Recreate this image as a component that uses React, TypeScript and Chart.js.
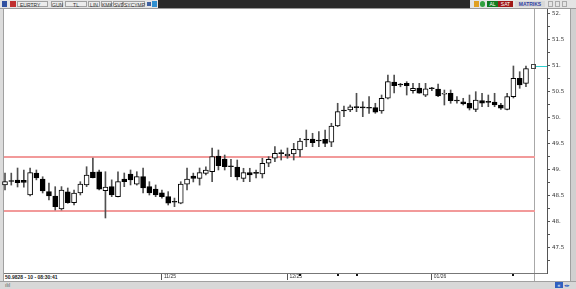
import React, { useEffect, useRef } from 'react';
import { Chart, registerables } from 'chart.js';
Chart.register(...registerables);

const opens = [48.712,48.78,48.808,48.80,48.519,48.942,48.827,48.583,48.5,48.25,48.58,48.371,48.558,48.712,48.962,48.967,48.602,48.679,48.487,48.827,48.923,48.725,48.871,48.679,48.635,48.563,48.487,48.385,48.36,48.725,48.885,48.84,48.936,48.967,49.269,49.212,49.065,49.058,48.84,48.948,48.94,48.923,49.129,49.225,49.33,49.269,49.308,49.385,49.58,49.596,49.56,49.59,49.533,49.846,50.137,50.154,50.2,50.198,50.19,50.198,50.135,50.379,50.692,50.636,50.667,50.525,50.577,50.437,50.565,50.558,50.456,50.475,50.328,50.313,50.283,50.167,50.333,50.303,50.308,50.25,50.167,50.41,50.763,50.667];
const closes = [48.775,48.778,48.756,48.76,48.948,48.846,48.596,48.5,48.294,48.615,48.371,48.558,48.731,48.904,48.852,48.629,48.673,48.519,48.775,48.775,48.808,48.871,48.654,48.558,48.519,48.487,48.36,48.38,48.731,48.827,48.84,48.948,49.0,49.256,49.083,49.063,49.063,48.865,48.948,48.904,48.936,49.129,49.206,49.321,49.315,49.308,49.398,49.558,49.577,49.525,49.558,49.513,49.846,50.121,50.135,50.217,50.198,50.196,50.188,50.11,50.379,50.698,50.621,50.634,50.621,50.571,50.475,50.563,50.563,50.423,50.475,50.333,50.327,50.269,50.187,50.346,50.283,50.301,50.25,50.187,50.41,50.763,50.635,50.95];
const highs = [48.942,48.94,49.038,49.0,49.038,49.0,48.87,48.75,48.679,48.68,48.654,48.615,48.775,49.063,49.231,49.0,48.967,48.81,48.967,48.942,49.0,48.967,49.038,48.775,48.712,48.615,48.583,48.46,48.775,49.038,48.94,49.038,49.063,49.423,49.385,49.288,49.205,49.192,49.033,49.033,49.0,49.225,49.256,49.448,49.385,49.423,49.513,49.609,49.769,49.706,49.737,49.769,49.898,50.283,50.231,50.25,50.475,50.313,50.41,50.283,50.442,50.827,50.827,50.667,50.698,50.667,50.667,50.667,50.59,50.654,50.538,50.538,50.41,50.379,50.442,50.506,50.475,50.442,50.475,50.283,50.475,51.0,50.89,51.0];
const lows = [48.615,48.71,48.673,48.67,48.5,48.81,48.558,48.423,48.231,48.23,48.36,48.327,48.52,48.68,48.846,48.615,48.077,48.487,48.48,48.679,48.712,48.71,48.558,48.519,48.487,48.456,48.327,48.294,48.35,48.615,48.77,48.71,48.904,48.775,49.0,49.0,48.871,48.808,48.775,48.775,48.846,48.846,49.063,49.16,49.192,49.225,49.192,49.256,49.448,49.448,49.448,49.448,49.448,49.833,50.025,50.121,50.121,50.025,50.09,50.09,50.09,50.365,50.481,50.6,50.442,50.475,50.475,50.41,50.525,50.41,50.25,50.283,50.283,50.25,50.154,50.121,50.217,50.217,50.217,50.167,50.154,50.385,50.571,50.603];

const dateTickIndex = [25, 45, 68];
const dateTickLabels = ['11/25', '12/25', '01/26'];
const eventIndex = [47, 53, 56, 81];
const levelLines = [49.25, 48.22];
const lastPrice = 51.0;
const yTickValues = [47.25,47.5,47.75,48,48.25,48.5,48.75,49,49.25,49.5,49.75,50,50.25,50.5,50.75,51,51.25,51.5,51.75,52];
const statusText = '50.9828 - 10 - 08:30:41';

const overlayPlugin = {
  id: 'overlay',
  beforeDatasetsDraw(chart: any) {
    const { ctx, chartArea, scales } = chart;
    const y = scales.y;
    ctx.save();
    ctx.fillStyle = '#f29a9a';
    levelLines.forEach((v) => {
      const py = Math.round(y.getPixelForValue(v));
      ctx.fillRect(chartArea.left, py - 1, 535 - chartArea.left, 2);
    });
    ctx.restore();
  },
  afterDraw(chart: any) {
    const { ctx, chartArea, scales } = chart;
    const x = scales.x;
    const y = scales.y;
    ctx.save();
    const py = Math.round(y.getPixelForValue(lastPrice)) + 0.5;
    ctx.strokeStyle = '#30d0d0';
    ctx.beginPath();
    ctx.moveTo(535, py);
    ctx.lineTo(chartArea.right, py);
    ctx.stroke();
    ctx.strokeStyle = '#444';
    ctx.strokeRect(531.5, py - 2, 4, 4);
    ctx.fillStyle = '#111';
    eventIndex.forEach((i) => {
      const px = Math.round(x.getPixelForValue(i));
      ctx.fillRect(px - 1, chartArea.bottom + 1, 2, 2);
    });
    ctx.restore();
  },
};

function App() {
  const ref = useRef<HTMLCanvasElement>(null);
  useEffect(() => {
    if (!ref.current) return;
    const bodyColors = closes.map((c, i) => (c > opens[i] ? '#ffffff' : '#000000'));
    const chart = new Chart(ref.current, {
      type: 'bar',
      data: {
        datasets: [
          {
            label: 'wick',
            data: highs.map((h, i) => ({ x: i, y: [lows[i], h] })) as any,
            backgroundColor: '#505050',
            barThickness: 1,
            grouped: false,
            order: 2,
            clip: false as any,
          },
          {
            label: 'body',
            data: opens.map((o, i) => ({ x: i, y: [o, closes[i]] })) as any,
            backgroundColor: bodyColors,
            borderColor: '#000000',
            borderWidth: 1,
            borderSkipped: false,
            barThickness: 5,
            minBarLength: 1,
            grouped: false,
            order: 1,
            clip: false as any,
          },
        ],
      },
      options: {
        animation: false,
        responsive: false,
        events: [],
        layout: { padding: { left: 4, top: 9, right: 7, bottom: 8 } },
        plugins: { legend: { display: false }, tooltip: { enabled: false } },
        scales: {
          x: {
            type: 'linear',
            min: -0.16,
            max: 86.35,
            offset: false,
            position: 'bottom',
            afterFit: (s: any) => { s.height = 8; },
            afterBuildTicks: (s: any) => { s.ticks = dateTickIndex.map((v) => ({ value: v })); },
            grid: { offset: false, drawOnChartArea: false, drawTicks: true, tickLength: 7, color: '#555', tickColor: '#555' },
            border: { display: true, color: '#777', width: 1 },
            ticks: {
              autoSkip: false,
              maxRotation: 0,
              align: 'start',
              padding: -6,
              labelOffset: 2,
              color: '#333',
              font: { family: 'Liberation Sans', size: 5 },
              callback: (v: any) => {
                const k = dateTickIndex.indexOf(Number(v));
                return k >= 0 ? dateTickLabels[k] : '';
              },
            },
          },
          y: {
            type: 'linear',
            position: 'right',
            min: 47.019,
            max: 52.096,
            afterFit: (s: any) => { s.width = 22; },
            afterBuildTicks: (s: any) => { s.ticks = yTickValues.map((v) => ({ value: v })); },
            grid: { drawOnChartArea: false, drawTicks: true, tickLength: 3, tickColor: '#555' },
            border: { display: true, color: '#555', width: 1 },
            ticks: {
              autoSkip: false,
              padding: 2,
              color: '#333',
              font: { family: 'DejaVu Sans', size: 5.5 },
              callback: (v: any) => {
                const n = Number(v);
                if (Math.abs(n * 2 - Math.round(n * 2)) > 1e-6) return '';
                return Number.isInteger(n) ? `${n}.` : `${n}`;
              },
            },
          },
        },
      },
      plugins: [overlayPlugin],
    });
    return () => chart.destroy();
  }, []);

  const tiny: React.CSSProperties = { font: '5px "Liberation Sans"', color: '#333', position: 'absolute', lineHeight: '6px', textAlign: 'center' };
  const btn = (left: number, width: number, text: string) => (
    <div style={{ ...tiny, left, top: 1, width, height: 6, border: '1px solid #a0a0a0', background: '#ececec', boxSizing: 'border-box' as any }}>{text}</div>
  );

  return (
    <div style={{ position: 'fixed', left: 0, top: 0, width: 576, height: 289, background: '#ffffff', overflow: 'hidden' }}>
      <div style={{ position: 'absolute', left: 0, top: 0, width: 576, height: 8, background: '#e4e4e4', borderBottom: '1px solid #9a9a9a' }} />
      <div style={{ position: 'absolute', left: 2, top: 1, width: 5, height: 6, background: '#3050a0' }} />
      <div style={{ position: 'absolute', left: 10, top: 1, width: 6, height: 6, background: '#c03030' }} />
      <div style={{ ...tiny, left: 17, top: 1, width: 31, height: 6, border: '1px solid #a0a0a0', background: '#ececec', boxSizing: 'border-box' as any, textAlign: 'left', paddingLeft: 2 }}>EURTRY</div>
      {btn(51, 12, 'GUN')}
      {btn(65, 22, 'TL')}
      {btn(88, 12, 'LIN')}
      {btn(101, 11, 'KMK')}
      {btn(113, 10, 'SVD')}
      {btn(123, 22, 'SYCYMP')}
      <div style={{ position: 'absolute', left: 147, top: 2, width: 4, height: 4, background: '#4060a0' }} />
      <div style={{ position: 'absolute', left: 152, top: 1, width: 5, height: 6, background: '#3090d0' }} />
      <div style={{ position: 'absolute', left: 158, top: 0, width: 312, height: 8, background: '#2a2a2a' }} />
      <div style={{ position: 'absolute', left: 474, top: 1, width: 5, height: 6, background: '#e0a020' }} />
      <div style={{ position: 'absolute', left: 480, top: 1, width: 5, height: 6, background: '#30a040', borderRadius: 3 }} />
      <div style={{ ...tiny, left: 487, top: 1, width: 11, height: 6, background: '#107a20', color: '#fff' }}>AL</div>
      <div style={{ ...tiny, left: 498, top: 1, width: 15, height: 6, background: '#a01818', color: '#fff' }}>SAT</div>
      <div style={{ ...tiny, left: 515, top: 1, width: 30, height: 6, background: '#d8d8d8', color: '#3040a0', fontWeight: 'bold' }}>MATRIKS</div>
      <div style={{ position: 'absolute', left: 548, top: 1, width: 5, height: 6, border: '1px solid #aaa', boxSizing: 'border-box' }} />
      <div style={{ position: 'absolute', left: 555, top: 1, width: 5, height: 6, border: '1px solid #aaa', boxSizing: 'border-box' }} />
      <div style={{ position: 'absolute', left: 562, top: 1, width: 5, height: 6, border: '1px solid #aaa', boxSizing: 'border-box' }} />
      <div style={{ position: 'absolute', left: 0, top: 9, width: 3, height: 272, background: '#dcdcdc', borderRight: '1px solid #a0a0a0' }} />
      <div style={{ position: 'absolute', left: 570, top: 9, width: 6, height: 272, background: '#d0d0d0', borderLeft: '1px solid #a0a0a0' }} />
      <div style={{ position: 'absolute', left: 534, top: 9, width: 1, height: 272, background: '#a8a8a8' }} />
      <div style={{ position: 'absolute', left: 0, top: 281, width: 576, height: 8, background: '#d8d8d8', borderTop: '1px solid #a0a0a0' }} />
      <div style={{ ...tiny, left: 5, top: 282, width: 10, textAlign: 'left', color: '#555' }}>ılıl</div>
      <div style={{ ...tiny, left: 555, top: 282, width: 8, height: 6, background: '#3060c0', color: '#fff' }}>«</div>
      <div style={{ ...tiny, left: 564, top: 282, width: 8, textAlign: 'left', color: '#3060c0' }}>◂▸</div>
      <div style={{ position: 'absolute', left: 5, top: 274, font: 'bold 5px "Liberation Sans"', color: '#222', lineHeight: '6px', whiteSpace: 'nowrap' }}>{statusText}</div>
      <canvas ref={ref} width={576} height={289} style={{ position: 'absolute', left: 0, top: 0, width: 576, height: 289 }} />
    </div>
  );
}

export default App;
